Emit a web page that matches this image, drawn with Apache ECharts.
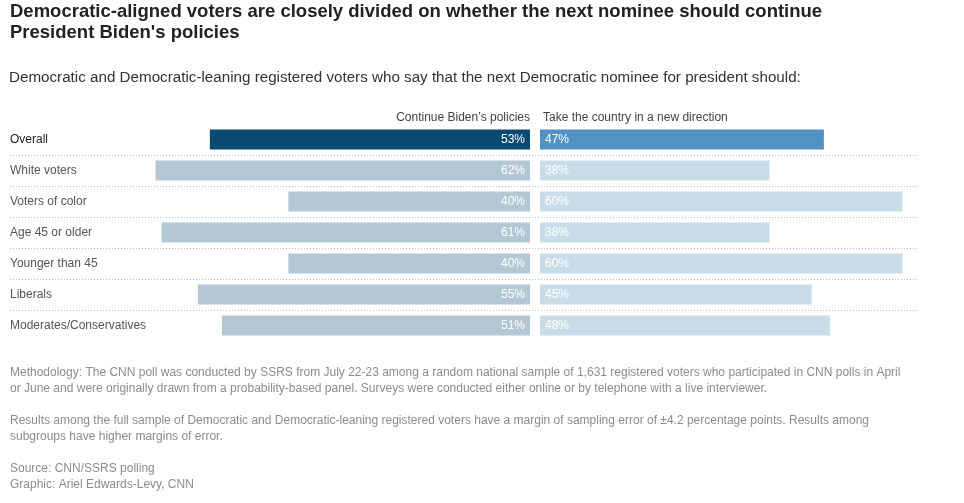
<!DOCTYPE html>
<html>
<head>
<meta charset="utf-8">
<script src="https://cdn.jsdelivr.net/npm/echarts@6/dist/echarts.min.js"></script>
<style>
html,body{margin:0;padding:0;background:#fff;}
#chart{width:964px;height:503px;}
</style>
</head>
<body>
<div id="chart"></div>
<script>
const categories = ['Overall','White voters','Voters of color','Age 45 or older','Younger than 45','Liberals','Moderates/Conservatives'];
const continueVals = [53,62,40,61,40,55,51];
const newDirVals = [47,38,60,38,60,45,48];
const seriesNames = ["Continue Biden\u2019s policies", 'Take the country in a new direction'];
const titleText = "Democratic-aligned voters are closely divided on whether the next nominee should continue\nPresident Biden's policies";
const subtitleText = 'Democratic and Democratic-leaning registered voters who say that the next Democratic nominee for president should:';
const noteLines = [
  'Methodology: The CNN poll was conducted by SSRS from July 22-23 among a random national sample of 1,631 registered voters who participated in CNN polls in April',
  'or June and were originally drawn from a probability-based panel. Surveys were conducted either online or by telephone with a live interviewer.',
  '',
  'Results among the full sample of Democratic and Democratic-leaning registered voters have a margin of sampling error of \u00b14.2 percentage points. Results among',
  'subgroups have higher margins of error.',
  '',
  'Source: CNN/SSRS polling',
  'Graphic: Ariel Edwards-Levy, CNN'
];

const FONT = '"Liberation Sans", Arial, sans-serif';
const PX = 6.04;
const gridTop = 124, gridH = 217;
const leftMax = 80, rightMax = 60;

const chart = echarts.init(document.getElementById('chart'));
chart.setOption({
  animation: false,
  textStyle: {fontFamily: FONT},
  title: [
    {text: titleText, left: 10, top: 1, padding: 0, textStyle: {fontFamily: FONT, fontSize: 18.5, fontWeight: 'bold', color: '#222', lineHeight: 21}},
    {text: subtitleText, left: 9, top: 69, padding: 0, textStyle: {fontFamily: FONT, fontSize: 15.2, fontWeight: 'normal', color: '#333', lineHeight: 18}}
  ],
  grid: [
    {left: 530 - leftMax*PX, width: leftMax*PX, top: gridTop, height: gridH},
    {left: 540, width: rightMax*PX, top: gridTop, height: gridH},
    {left: 10, right: 46, top: gridTop, height: gridH}
  ],
  xAxis: [
    {gridIndex: 0, type: 'value', min: 0, max: leftMax, inverse: true, show: false},
    {gridIndex: 1, type: 'value', min: 0, max: rightMax, show: false},
    {gridIndex: 2, type: 'value', min: 0, max: 1, show: false}
  ],
  yAxis: [
    {gridIndex: 0, type: 'category', data: categories, inverse: true, show: false},
    {gridIndex: 1, type: 'category', data: categories, inverse: true, show: false},
    {gridIndex: 2, type: 'category', data: categories, inverse: true,
      axisLine: {show: false}, axisTick: {show: false},
      axisLabel: {inside: true, align: 'left', margin: 0, fontFamily: FONT, fontSize: 12,
        formatter: function(v){ return v === 'Overall' ? '{b|' + v + '}' : '{n|' + v + '}'; },
        rich: {b: {color: '#222', fontSize: 12, fontFamily: FONT}, n: {color: '#555', fontSize: 12, fontFamily: FONT}}},
      splitLine: {show: true, showMinLine: false, showMaxLine: false, lineStyle: {type: [1,2], color: '#bbb', width: 1}}
    }
  ],
  series: [
    {
      name: seriesNames[0], type: 'bar', xAxisIndex: 0, yAxisIndex: 0, barWidth: 20, silent: true,
      data: continueVals.map((v, i) => ({value: v, itemStyle: {color: i === 0 ? '#094a72' : '#b3c7d4'}})),
      label: {show: true, position: 'insideRight', distance: 5, color: '#fff', fontSize: 12, fontFamily: FONT, formatter: '{c}%'}
    },
    {
      name: seriesNames[1], type: 'bar', xAxisIndex: 1, yAxisIndex: 1, barWidth: 20, silent: true,
      data: newDirVals.map((v, i) => ({value: v, itemStyle: {color: i === 0 ? '#4f92c3' : '#c9dde9'}})),
      label: {show: true, position: 'insideLeft', distance: 5, color: '#fff', fontSize: 12, fontFamily: FONT, formatter: '{c}%'}
    },
    {type: 'bar', xAxisIndex: 2, yAxisIndex: 2, data: [], silent: true}
  ],
  graphic: [
    {type: 'text', right: 964 - 530, top: 112, style: {text: seriesNames[0], fontFamily: FONT, fontSize: 12, fill: '#444', textAlign: 'right'}},
    {type: 'text', left: 543, top: 112, style: {text: seriesNames[1], fontFamily: FONT, fontSize: 12, fill: '#444'}},
    {type: 'text', left: 10, top: 365, style: {text: noteLines.join('\n'), fontFamily: FONT, fontSize: 12, lineHeight: 16, fill: '#8c8c8c'}}
  ]
});
</script>
</body>
</html>
